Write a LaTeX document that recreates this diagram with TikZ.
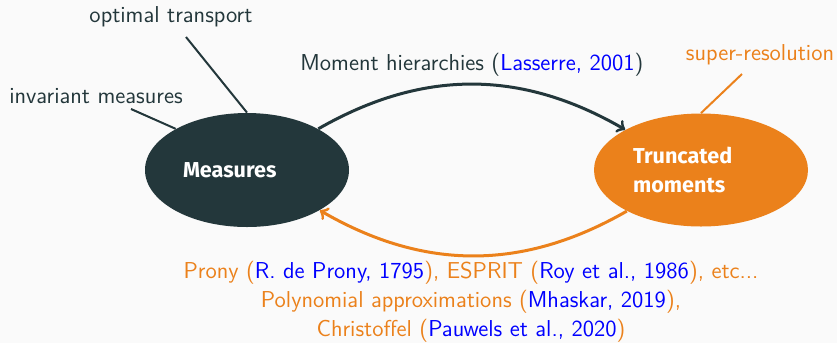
\documentclass[tikz,border=0pt]{standalone}
\usepackage{fontspec}
\newfontfamily\firafont{Fira Sans}
\usetikzlibrary{shapes.geometric, arrows}
\definecolor{mdark}{RGB}{35,55,59}
\definecolor{morange}{RGB}{235,129,27}
\definecolor{mbg}{RGB}{250,250,250}
\newcommand{\refblue}[1]{\textcolor{blue}{#1}}

\begin{document}
\begin{tikzpicture}[x=0.5pt, y=-0.5pt, font=\sffamily\fontsize{11.5pt}{14.5pt}\selectfont]
    \tikzstyle{elem} = [ellipse, fill=mdark, text=white, font=\firafont\bfseries\fontsize{10.8pt}{14.5pt}\selectfont, align=left, text width=64pt, minimum width=102pt, minimum height=57pt]
    \tikzstyle{lbl} = [text=mdark, inner sep=0pt]
    \tikzstyle{lnk} = [line width=1pt]
    \tikzstyle{arr} = [->, >=to, line width=1.5pt]

    \fill[mbg] (0,0) rectangle (837,343);

    \node[elem] (meas) at (247,170) {Measures};
    \node[elem, fill=morange, text width=68pt, minimum width=107pt, minimum height=56.5pt] (trunc) at (701,170) {Truncated\\moments};

    \node[lbl] (ot) at (171,17) {optimal transport};
    \node[lbl] (im) at (96,96) {invariant measures};
    \node[lbl, text=morange] (sr) at (760,55) {super-resolution};
    \coordinate (ot-end) at (186,37);
    \coordinate (im-end) at (131,109);
    \coordinate (sr-end) at (742,74);

    \foreach \from/\to/\col in {ot-end/meas.90/mdark, im-end/meas.150/mdark, sr-end/trunc.90/morange}
    \draw [lnk, \col] (\from) -- (\to);

    \draw [arr, mdark] (meas.30) to[bend left=30] node[midway, above, text=mdark] {Moment hierarchies (\refblue{Lasserre, 2001})} (trunc.152);
    \draw [arr, morange] (trunc.209) to[bend left=30] (meas.331);

    \node[align=center, text=morange] (refs) at (471,302) {Prony (\refblue{R. de Prony, 1795}), ESPRIT (\refblue{Roy et al., 1986}), etc...\\Polynomial approximations (\refblue{Mhaskar, 2019}),\\Christoffel (\refblue{Pauwels et al., 2020})};
\end{tikzpicture}
\end{document}
